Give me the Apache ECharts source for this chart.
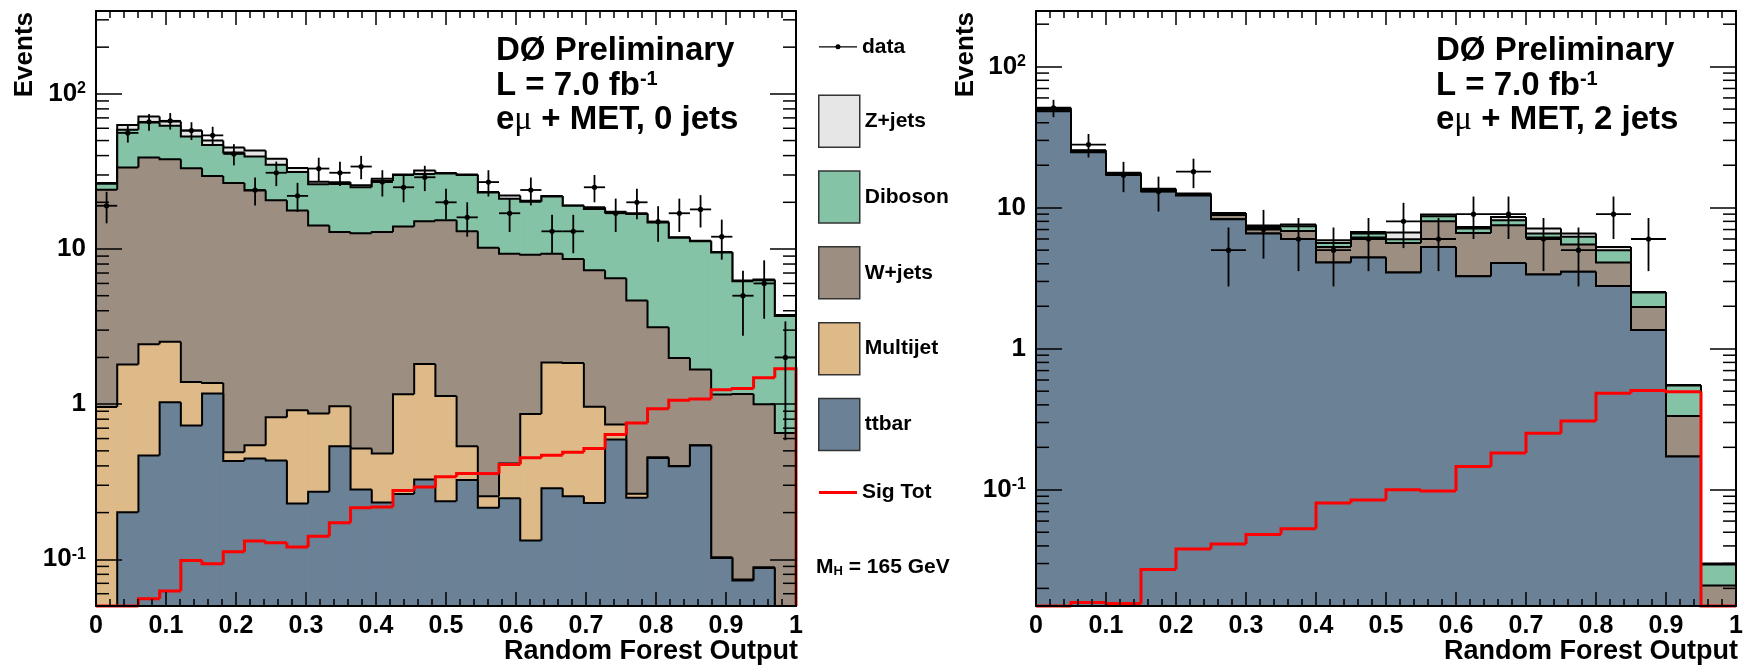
<!DOCTYPE html>
<html>
<head>
<meta charset="utf-8">
<title>Random Forest Output, eμ + MET</title>
<script src="https://cdn.jsdelivr.net/npm/echarts@6.0.0/dist/echarts.min.js"></script>
<style>
  html, body { margin: 0; padding: 0; background: #ffffff; }
  #chart { width: 1755px; height: 667px; }
</style>
</head>
<body>
<div id="chart"></div>
<script>
// ---------- 0-jet channel: 33 equal bins on [0, 1] ----------
const jet0Data     = [19, 56, 66, 67, 58, 54, 41, 24, 31, 22, 33, 31, 34, 27, 25, 29, 20, 16, 27, 17, 24, 13, 13, 25, 17, 20, 15, 17, 18, 12, 5, 6, 2];
const jet0Ttbar    = [0.03, 0.201, 0.467, 1.03, 0.728, 1.17, 0.43, 0.447, 0.434, 0.229, 0.272, 0.536, 0.282, 0.232, 0.264, 0.327, 0.237, 0.324, 0.215, 0.247, 0.132, 0.287, 0.255, 0.231, 0.592, 0.249, 0.45, 0.398, 0.541, 0.102, 0.073, 0.088, 0.03];
const jet0Multijet = [0.93, 1.60, 1.97, 1.49, 0.66, 0.20, 0.06, 0.097, 0.39, 0.685, 0.597, 0.433, 0.236, 0.249, 0.896, 1.49, 0.893, 0.211, 0.04, 0.167, 0.733, 1.57, 1.59, 0.731, 0.148, 0.016, 0.005, 0.002, 0.002, 0.001, 0.001, 0.001, 0.001];
const jet0Wjets    = [23.14, 31.7, 36.5, 35.4, 31.8, 28.2, 26.1, 23.3, 19.8, 16.8, 13.3, 11.9, 12.1, 12.4, 12.8, 13.3, 14.2, 12.5, 9.95, 8.92, 8.33, 7.47, 6.79, 6.32, 5.73, 4.39, 2.67, 1.58, 1.13, 1.05, 1.09, 0.91, 0.62];
const jet0Diboson  = [2.2, 25.1, 26.4, 24.3, 19.9, 17.3, 15.3, 15.6, 14.3, 13.6, 12.0, 13.4, 12.4, 14.6, 16.0, 15.3, 15.3, 16.9, 12.9, 11.77, 11.0, 12.47, 10.37, 10.82, 10.73, 12.15, 11.68, 9.82, 9.53, 8.35, 5.04, 5.3, 3.05];
const jet0Zjets    = [0.3, 4.5, 6.1, 4.2, 5.0, 3.1, 3.2, 3.7, 3.2, 1.9, 1.0, 0.7, 0.7, 0.9, 0.3, 1.6, 0.3, 0.3, 0.2, 1.0, 0.3, 0.2, 0.1, 0.5, 0.2, 0.2, 0.2, 0.1, 0.1, 0.07, 0.07, 0.05, 0.05];
const jet0Signal   = [0.03, 0.045, 0.0557, 0.0624, 0.0984, 0.0936, 0.112, 0.131, 0.128, 0.12, 0.141, 0.172, 0.215, 0.217, 0.278, 0.292, 0.34, 0.357, 0.357, 0.408, 0.451, 0.469, 0.49, 0.517, 0.637, 0.757, 0.933, 1.06, 1.08, 1.24, 1.26, 1.48, 1.69];

// ---------- 2-jet channel: 20 equal bins on [0, 1] ----------
const jet2Data     = [51, 28, 17, 13, 18, 5, 7, 6, 5, 6, 8, 6, 9, 9, 6, 5, 9, 6, 0, 0];
const jet2Ttbar    = [48.3, 24.7, 17.1, 13.1, 12.2, 8.28, 6.56, 6.0, 4.09, 4.43, 3.47, 5.27, 3.27, 4.06, 3.36, 3.51, 2.78, 1.36, 0.172, 0.008];
const jet2Multijet = [0, 0, 0, 0, 0, 0, 0, 0, 0, 0, 0, 0, 0, 0, 0, 0, 0, 0, 0, 0];
const jet2Wjets    = [1.6, 0.4, 0.3, 0.25, 0.2, 0.6, 0.55, 0.84, 1.18, 1.71, 2.15, 2.74, 3.35, 3.44, 2.78, 1.97, 1.31, 0.62, 0.162, 0.013];
const jet2Diboson  = [0.5, 0.2, 0.15, 0.1, 0.1, 0.15, 0.2, 0.54, 0.35, 0.42, 0.35, 0.68, 0.49, 0.65, 0.42, 0.73, 0.91, 0.52, 0.214, 0.0085];
const jet2Zjets    = [0.7, 0.2, 0.15, 0.15, 0.1, 0.15, 0.16, 0.21, 0.26, 0.17, 0.69, 0.25, 0.19, 0.44, 0.55, 0.35, 0.27, 0.03, 0.005, 0.0005];
const jet2Signal   = [0.012, 0.0159, 0.0156, 0.0272, 0.038, 0.0412, 0.0481, 0.053, 0.0805, 0.0846, 0.1, 0.098, 0.146, 0.182, 0.252, 0.308, 0.483, 0.505, 0.496, 0.001];

// ---------- axes ----------
const yMajorTicks = [0.1, 1, 10, 100];
const yMinorSteps = [2, 3, 4, 5, 6, 7, 8, 9];
const jet0YRange = [0.05, 342];
const jet2YRange = [0.015, 248];

const FF = '"Liberation Sans", Arial, Helvetica, sans-serif';
const COLORS = {
  Zjets: '#e6e6e6', Diboson: '#84c3a5', Wjets: '#9c8e80',
  Multijet: '#deba89', ttbar: '#6a8196', signal: '#ff0000'
};

// y pixel of a value, pinned to the plot area (values below the axis sit on it)
function pinY(api, cs, v) {
  const top = cs.y, bot = cs.y + cs.height;
  if (!(v > 0)) return bot;
  const p = api.coord([0, v])[1];
  if (!isFinite(p)) return bot;
  return Math.min(bot, Math.max(top, p));
}

// one histogram outline (optionally filled from the x axis up to the bin content)
function histSeries(name, axisIdx, values, fill, stroke, lineWidth) {
  const n = values.length, w = 1 / n;
  const data = values.map((v, i) => [i * w, v, (i + 1) * w, i > 0 ? values[i - 1] : -1, i === n - 1 ? 1 : 0]);
  return {
    type: 'custom', name, xAxisIndex: axisIdx * 2, yAxisIndex: axisIdx * 2,
    silent: true, animation: false,
    itemStyle: { color: fill || stroke },
    renderItem(params, api) {
      const cs = params.coordSys;
      const bot = cs.y + cs.height;
      const x0 = api.coord([api.value(0), 1])[0];
      const x1 = api.coord([api.value(2), 1])[0];
      const y = pinY(api, cs, api.value(1));
      const yPrev = api.value(3) < 0 ? bot : pinY(api, cs, api.value(3));
      const pts = [[x0, yPrev], [x0, y], [x1, y]];
      if (api.value(4)) pts.push([x1, bot]);
      const children = [];
      if (fill) {
        children.push({ type: 'rect', shape: { x: x0, y, width: x1 - x0 + 0.6, height: bot - y }, style: { fill } });
      }
      children.push({ type: 'polyline', shape: { points: pts }, style: { stroke, lineWidth, fill: null } });
      return { type: 'group', children };
    },
    data
  };
}

// data points with Poisson error bars and bin-width horizontal bars
function dataSeries(axisIdx, counts) {
  const n = counts.length, w = 1 / n;
  const data = [];
  counts.forEach((c, i) => {
    if (c > 0) data.push([(i + 0.5) * w, c, i * w, (i + 1) * w, c - Math.sqrt(c), c + Math.sqrt(c)]);
  });
  return {
    type: 'custom', name: 'data', xAxisIndex: axisIdx * 2, yAxisIndex: axisIdx * 2,
    silent: true, animation: false, itemStyle: { color: '#000' },
    renderItem(params, api) {
      const cs = params.coordSys;
      const c = api.coord([api.value(0), api.value(1)]);
      const xl = api.coord([api.value(2), 1])[0];
      const xr = api.coord([api.value(3), 1])[0];
      const yLo = pinY(api, cs, api.value(4));
      const yHi = pinY(api, cs, api.value(5));
      const ls = { stroke: '#000', lineWidth: 1.8 };
      return { type: 'group', children: [
        { type: 'line', shape: { x1: xl, y1: c[1], x2: xr, y2: c[1] }, style: ls },
        { type: 'line', shape: { x1: c[0], y1: yHi, x2: c[0], y2: yLo }, style: ls },
        { type: 'circle', shape: { cx: c[0], cy: c[1], r: 2.6 }, style: { fill: '#000' } }
      ] };
    },
    data
  };
}

// logarithmic minor ticks (2..9 x 10^k) on both vertical frame edges
function minorTickSeries(axisIdx, range) {
  const vals = [];
  for (let k = -3; k <= 3; k++) {
    yMinorSteps.forEach(m => {
      const v = m * Math.pow(10, k);
      if (v > range[0] && v < range[1]) vals.push([0, v]);
    });
  }
  return {
    type: 'custom', xAxisIndex: axisIdx * 2, yAxisIndex: axisIdx * 2,
    silent: true, animation: false, z: 10,
    renderItem(params, api) {
      const cs = params.coordSys;
      const y = api.coord([0, api.value(1)])[1];
      const st = { stroke: '#000', lineWidth: 1.5 };
      return { type: 'group', children: [
        { type: 'line', shape: { x1: cs.x, y1: y, x2: cs.x + 13, y2: y }, style: st },
        { type: 'line', shape: { x1: cs.x + cs.width - 13, y1: y, x2: cs.x + cs.width, y2: y }, style: st }
      ] };
    },
    data: vals
  };
}

function panelSeries(axisIdx, comps, signal, counts, range) {
  // cumulative stack levels, bottom to top
  const order = [comps.ttbar, comps.Multijet, comps.Wjets, comps.Diboson, comps.Zjets];
  const levels = [];
  let run = order[0].map(() => 0);
  order.forEach(c => { run = run.map((s, i) => s + c[i]); levels.push(run.slice()); });
  return [
    histSeries('Z+jets',   axisIdx, levels[4], COLORS.Zjets,    '#000', 2),
    histSeries('Diboson',  axisIdx, levels[3], COLORS.Diboson,  '#000', 2),
    histSeries('W+jets',   axisIdx, levels[2], COLORS.Wjets,    '#000', 2),
    histSeries('Multijet', axisIdx, levels[1], COLORS.Multijet, '#000', 2),
    histSeries('ttbar',    axisIdx, levels[0], COLORS.ttbar,    '#000', 2),
    histSeries('Sig Tot',  axisIdx, signal, null, COLORS.signal, 3),
    dataSeries(axisIdx, counts),
    minorTickSeries(axisIdx, range)
  ];
}

const lineStyle = { color: '#000', width: 2 };
const tickStyle = { color: '#000', width: 1.5 };

function xAxesFor(gi) {
  const base = {
    gridIndex: gi, type: 'value', min: 0, max: 1, interval: 0.1, z: 10,
    axisLine: { show: true, onZero: false, lineStyle },
    axisTick: { show: true, inside: true, length: 14, lineStyle: tickStyle },
    minorTick: { show: true, splitNumber: 5, length: 7, lineStyle: tickStyle },
    splitLine: { show: false }, minorSplitLine: { show: false }
  };
  return [
    Object.assign({}, base, {
      position: 'bottom',
      axisLabel: {
        margin: 8, color: '#000', fontFamily: FF, fontWeight: 'bold', fontSize: 25,
        showMinLabel: true, showMaxLabel: true, hideOverlap: false,
        formatter: v => (v === 0 ? '0' : Math.abs(v - 1) < 1e-9 ? '1' : v.toFixed(1))
      }
    }),
    Object.assign({}, base, { position: 'top', axisLabel: { show: false } })
  ];
}

function logLabel(v) {
  const e = Math.round(Math.log10(v));
  if (Math.abs(Math.log10(v) - e) > 1e-6) return '';
  if (e === 0) return '{n|1}';
  if (e === 1) return '{n|10}';
  return '{n|10}{s|' + e + '}';
}

function yAxesFor(gi, range) {
  const base = {
    gridIndex: gi, type: 'log', logBase: 10, min: range[0], max: range[1], z: 10,
    axisLine: { show: true, onZero: false, lineStyle },
    axisTick: { show: true, inside: true, length: 26, lineStyle: tickStyle, customValues: yMajorTicks },
    splitLine: { show: false }
  };
  return [
    Object.assign({}, base, {
      position: 'left',
      axisLabel: {
        margin: 10, color: '#000', showMinLabel: true, showMaxLabel: true, hideOverlap: false,
        customValues: yMajorTicks, formatter: logLabel,
        rich: {
          n: { fontFamily: FF, fontWeight: 'bold', fontSize: 26, lineHeight: 26, color: '#000' },
          s: { fontFamily: FF, fontWeight: 'bold', fontSize: 16, lineHeight: 16, verticalAlign: 'top', color: '#000' }
        }
      }
    }),
    Object.assign({}, base, { position: 'right', axisLabel: { show: false } })
  ];
}

const jet0Comps = { ttbar: jet0Ttbar, Multijet: jet0Multijet, Wjets: jet0Wjets, Diboson: jet0Diboson, Zjets: jet0Zjets };
const jet2Comps = { ttbar: jet2Ttbar, Multijet: jet2Multijet, Wjets: jet2Wjets, Diboson: jet2Diboson, Zjets: jet2Zjets };

const txt = { fontFamily: FF, fontWeight: 'bold', fill: '#000' };
function label3(x, jets) {
  const rich = {
    a: { fontFamily: FF, fontWeight: 'bold', fontSize: 33, lineHeight: 33, fill: '#000' },
    s: { fontFamily: FF, fontWeight: 'bold', fontSize: 20, lineHeight: 20, verticalAlign: 'top', fill: '#000' },
    m: { fontFamily: '"Liberation Serif", "DejaVu Serif", serif', fontWeight: 'normal', fontSize: 33, lineHeight: 33, fill: '#000' }
  };
  return [
    { type: 'text', x, y: 51, style: { text: '{a|DØ Preliminary}', rich, verticalAlign: 'middle' } },
    { type: 'text', x, y: 85.5, style: { text: '{a|L = 7.0 fb}{s|-1}', rich, verticalAlign: 'middle' } },
    { type: 'text', x, y: 120, style: { text: '{a|e}{m|μ}{a| + MET, ' + jets + ' jets}', rich, verticalAlign: 'middle' } }
  ];
}

const legendText = { fontFamily: FF, fontWeight: 'bold', fontSize: 21, color: '#000' };
const boxBorder = { borderColor: '#333', borderWidth: 1.5 };

const option = {
  animation: false,
  backgroundColor: '#ffffff',
  grid: [
    { left: 96, top: 11, width: 700, height: 595 },
    { left: 1036, top: 11, width: 700, height: 595 }
  ],
  xAxis: [...xAxesFor(0), ...xAxesFor(1)],
  yAxis: [...yAxesFor(0, jet0YRange), ...yAxesFor(1, jet2YRange)],
  legend: [
    {
      left: 819, top: 36.3, padding: 0, orient: 'vertical', itemWidth: 38, itemHeight: 5,
      textStyle: legendText,
      data: [{ name: 'data', icon: 'path://M0,1.9 L38,1.9 L38,3.1 L0,3.1 Z M16.5,2.5 A2.5,2.5 0 1,1 21.5,2.5 A2.5,2.5 0 1,1 16.5,2.5 Z', itemStyle: { color: '#000' } }]
    },
    {
      left: 818, top: 94.5, padding: 0, orient: 'vertical', itemWidth: 41, itemHeight: 52, itemGap: 22.3,
      textStyle: legendText,
      data: [
        { name: 'Z+jets',   icon: 'rect', itemStyle: Object.assign({ color: COLORS.Zjets }, boxBorder) },
        { name: 'Diboson',  icon: 'rect', itemStyle: Object.assign({ color: COLORS.Diboson }, boxBorder) },
        { name: 'W+jets',   icon: 'rect', itemStyle: Object.assign({ color: COLORS.Wjets }, boxBorder) },
        { name: 'Multijet', icon: 'rect', itemStyle: Object.assign({ color: COLORS.Multijet }, boxBorder) },
        { name: 'ttbar',    icon: 'rect', itemStyle: Object.assign({ color: COLORS.ttbar }, boxBorder) }
      ]
    },
    {
      left: 819, top: 482, padding: 0, orient: 'vertical', itemWidth: 38, itemHeight: 3,
      textStyle: legendText,
      data: [{ name: 'Sig Tot', icon: 'rect', itemStyle: { color: COLORS.signal } }]
    }
  ],
  graphic: [
    { type: 'text', x: 25, y: 12, rotation: Math.PI / 2, style: Object.assign({ text: 'Events', fontSize: 26, align: 'right', verticalAlign: 'middle' }, txt) },
    { type: 'text', x: 966, y: 12, rotation: Math.PI / 2, style: Object.assign({ text: 'Events', fontSize: 26, align: 'right', verticalAlign: 'middle' }, txt) },
    { type: 'text', x: 798, y: 652, style: Object.assign({ text: 'Random Forest Output', fontSize: 27, align: 'right', verticalAlign: 'middle' }, txt) },
    { type: 'text', x: 1738, y: 652, style: Object.assign({ text: 'Random Forest Output', fontSize: 27, align: 'right', verticalAlign: 'middle' }, txt) },
    ...label3(496, 0),
    ...label3(1436, 2),
    {
      type: 'text', x: 816, y: 567,
      style: {
        text: '{m|M}{h|H}{m| = 165 GeV}', verticalAlign: 'middle',
        rich: {
          m: { fontFamily: FF, fontWeight: 'bold', fontSize: 21, lineHeight: 21, fill: '#000' },
          h: { fontFamily: FF, fontWeight: 'bold', fontSize: 13, lineHeight: 13, verticalAlign: 'bottom', fill: '#000' }
        }
      }
    }
  ],
  series: [
    ...panelSeries(0, jet0Comps, jet0Signal, jet0Data, jet0YRange),
    ...panelSeries(1, jet2Comps, jet2Signal, jet2Data, jet2YRange)
  ]
};

const chart = echarts.init(document.getElementById('chart'), null, { renderer: 'canvas' });
chart.setOption(option);
</script>
</body>
</html>
